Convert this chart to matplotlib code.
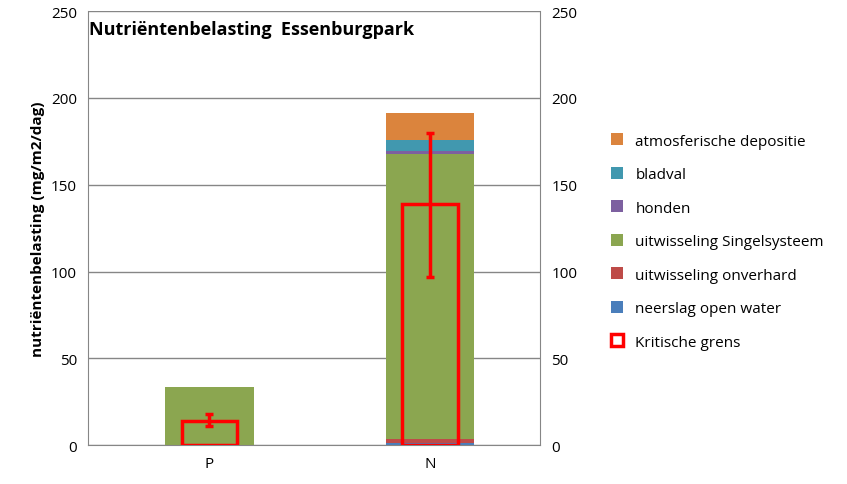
import matplotlib
matplotlib.use("Agg")
import matplotlib.pyplot as plt
import numpy as np

categories = ["P", "N"]
series_names = ["neerslag open water", "uitwisseling onverhard", "uitwisseling Singelsysteem",
                "honden", "bladval", "atmosferische depositie"]
series_values = [
    [0.0, 1.5],
    [0.0, 2.0],
    [33.3, 164.5],
    [0.0, 1.5],
    [0.5, 6.5],
    [0.0, 15.5],
]
colors = ["#4a7ebb", "#be4b48", "#8ba650", "#7d60a0", "#4198af", "#db843d"]
kritisch = [14, 139]
kritisch_lo = [11, 97]
kritisch_hi = [18, 180]

plt.rcParams['font.family'] = ['Open Sans', 'DejaVu Sans']
fig = plt.figure(figsize=(8.47, 4.85), dpi=100)
ax = fig.add_axes([0.104, 0.08, 0.534, 0.895])
x = np.arange(len(categories))
bottom = np.zeros(len(categories))
handles = []
for name, vals, c in zip(series_names, series_values, colors):
    h = ax.bar(x, vals, 0.4, bottom=bottom, color=c, label=name, zorder=2)
    handles.append(h)
    bottom += np.array(vals)
kb = ax.bar(x, kritisch, 0.25, fill=False, edgecolor="#ff0000", linewidth=2.5, zorder=3, label="Kritische grens")
ax.errorbar(x, kritisch, yerr=[np.array(kritisch)-np.array(kritisch_lo), np.array(kritisch_hi)-np.array(kritisch)],
            fmt="none", ecolor="#ff0000", elinewidth=2.5, capsize=3, capthick=2.5, zorder=4)
ax.set_xlim(-0.55, 1.5)
ax.set_ylim(0, 250)
ax.set_yticks(range(0, 251, 50))
ax.set_xticks(x)
ax.set_xticklabels(categories)
ax.grid(axis="y", color="#868686", linewidth=1, zorder=0)
for s in ["top", "right"]:
    ax.spines[s].set_visible(False)
ax.spines["left"].set_color("#868686")
ax.spines["bottom"].set_color("#868686")
ax.tick_params(axis="both", length=0, labelsize=11, pad=8)
ax.set_ylabel("nutriëntenbelasting (mg/m2/dag)", fontsize=11, fontweight="bold")
ax2 = ax.twinx()
ax2.set_ylim(0, 250)
ax2.set_yticks(range(0, 251, 50))
for s in ["top", "left", "bottom"]:
    ax2.spines[s].set_visible(False)
ax2.spines["right"].set_color("#868686")
ax2.tick_params(axis="y", length=0, labelsize=11, pad=8)
ax.text(-0.545, 245, "Nutriëntenbelasting  Essenburgpark", fontsize=13, fontweight="bold", va="top")
leg_handles = handles[::-1] + [kb]
leg_labels = series_names[::-1] + ["Kritische grens"]
fig.legend(leg_handles, leg_labels, loc="center left", bbox_to_anchor=(0.705, 0.5), frameon=False,
           fontsize=11, handlelength=0.8, handleheight=0.8, labelspacing=1.2)
fig.savefig("out.png", dpi=100)
